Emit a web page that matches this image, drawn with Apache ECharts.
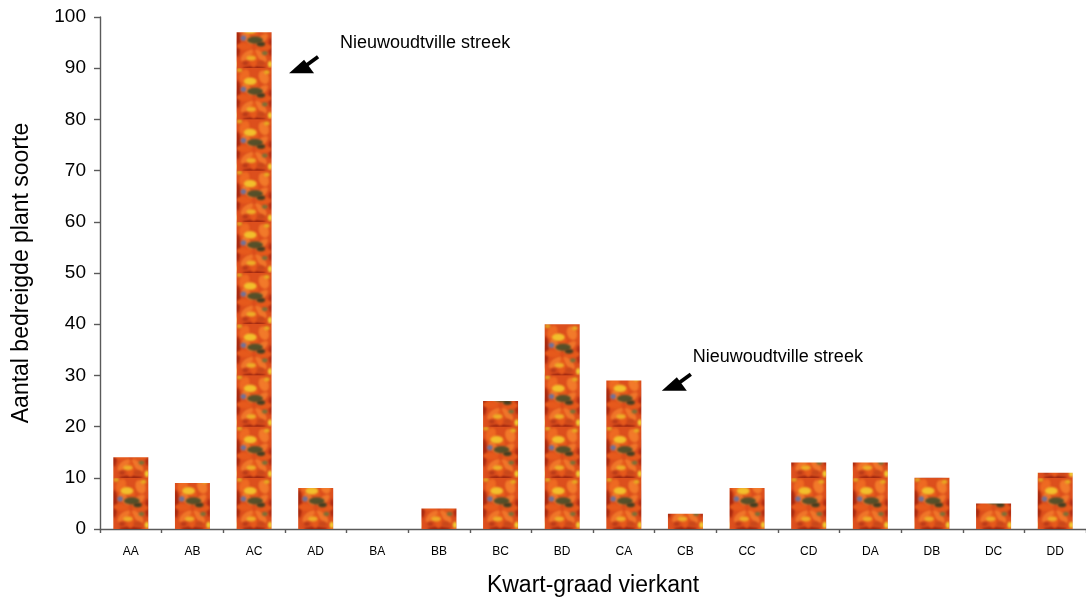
<!DOCTYPE html>
<html><head><meta charset="utf-8">
<script src="https://cdn.jsdelivr.net/npm/echarts@6/dist/echarts.min.js"></script>
<style>html,body{margin:0;padding:0;background:#fff}#c{width:1086px;height:603px}</style>
</head><body><div id="c"></div>
<script>
// ---- data ----
const categories = ['AA','AB','AC','AD','BA','BB','BC','BD','CA','CB','CC','CD','DA','DB','DC','DD'];
const values = [14, 9, 97, 8, 0, 4, 25, 40, 29, 3, 8, 13, 13, 10, 5, 11];
const yMin = 0, yMax = 100, yInterval = 10;
const xTitle = 'Kwart-graad vierkant';
const yTitle = 'Aantal bedreigde plant soorte';
const noteTexts = ['Nieuwoudtville streek', 'Nieuwoudtville streek'];
const noteCategories = ['AC', 'CA'];
const noteValues = [89, 27];

// ---- style ----
const FONT = '"Liberation Sans", Arial, Helvetica, sans-serif';
const AXIS = '#5a5a5a';
const BAR_W = 35;
const noteLayout = [ {dx: 35, tdx: 51, tdy: -30}, {dx: 38, tdx: 31, tdy: -34} ];

function makeTile() {
  const W = 72, H = 102, s = 2;
  const c = document.createElement('canvas'); c.width = W; c.height = H;
  const g = c.getContext('2d');
  g.fillStyle = '#dc4f1d'; g.fillRect(0, 0, W, H);
  g.filter = 'blur(2.2px)';
  const ell = (x, y, rx, ry, col, rot) => {
    g.fillStyle = col; g.beginPath();
    g.ellipse(x * s, y * s, rx * s, ry * s, rot || 0, 0, Math.PI * 2); g.fill();
  };
  ell(1, 26, 3, 14, '#a8290f');
  ell(35, 30, 2.5, 9, '#b02d14');
  ell(18, 51, 12, 2, '#9a2611');
  const petals = [0, 0.8, 1.6, 2.4, 3.2, 4.0, 4.8, 5.6];
  petals.forEach((a, i) => {
    const cx = 18 + Math.cos(a) * 10, cy = 30 + Math.sin(a) * 12;
    ell(cx, cy, 3.5, 8, i % 2 ? '#f0762a' : '#e65a1c', a + Math.PI / 2);
  });
  ell(8, 8, 5, 7, '#ee6a22', 0.4);
  ell(28, 9, 5, 7, '#f27a2a', -0.4);
  ell(14, 13, 6.5, 3.8, '#f2c02c');
  ell(31, 4, 3, 2, '#e8ad22');
  ell(3, 2, 3, 2, '#e2a322');
  ell(19, 23, 8, 3.6, '#55502a');
  ell(25, 27, 4.5, 2.4, '#423e22');
  ell(7, 21, 3, 2.6, '#6f729c');
  ell(15, 41, 5, 2.5, '#eeae28');
  ell(34.5, 47, 2.3, 3.2, '#f2cf32');
  ell(29, 36, 3, 2, '#787238');
  ell(9, 46, 3, 2, '#b83a18');
  ell(25, 46, 4, 2.5, '#c8481b');
  g.filter = 'none';
  return c;
}

const chart = echarts.init(document.getElementById('c'));
const baseOption = {
  backgroundColor: '#fff',
  animation: false,
  grid: { left: 100, top: 17, width: 990, height: 512, containLabel: false },
  xAxis: {
    type: 'category', data: categories, boundaryGap: true,
    axisLine: { lineStyle: { color: AXIS, width: 1.4 } },
    axisTick: { show: true, length: 4, lineStyle: { color: AXIS, width: 1.4 } },
    axisLabel: { fontFamily: FONT, fontSize: 12, color: '#000', margin: 17 },
    name: xTitle, nameLocation: 'middle', nameGap: 45,
    nameTextStyle: { fontFamily: FONT, fontSize: 23, color: '#000' }
  },
  yAxis: {
    type: 'value', min: yMin, max: yMax, interval: yInterval,
    axisLine: { show: true, lineStyle: { color: AXIS, width: 1.4 } },
    axisTick: { show: true, length: 6, lineStyle: { color: AXIS, width: 1.4 } },
    splitLine: { show: false },
    axisLabel: { fontFamily: FONT, fontSize: 19, color: '#000', margin: 14 },
    name: yTitle, nameLocation: 'middle', nameGap: 67, nameRotate: 90,
    nameTextStyle: { fontFamily: FONT, fontSize: 23, color: '#000' }
  },
  series: [{
    type: 'bar', data: values, barWidth: BAR_W,
    itemStyle: { color: '#d64a1c' }, emphasis: { disabled: true }
  }]
};
chart.setOption(baseOption);

const tile = makeTile();
const y0 = chart.convertToPixel({ yAxisIndex: 0 }, 0);
const h10 = y0 - chart.convertToPixel({ yAxisIndex: 0 }, yInterval);
const barData = values.map((v, i) => {
  const cx = chart.convertToPixel({ xAxisIndex: 0 }, categories[i]);
  return {
    value: v,
    itemStyle: { color: { image: tile, repeat: 'repeat', x: cx - BAR_W / 2, y: y0,
      scaleX: BAR_W / tile.width, scaleY: h10 / tile.height } }
  };
});

const graphics = [];
noteTexts.forEach((t, k) => {
  const L = noteLayout[k];
  const p = chart.convertToPixel({ xAxisIndex: 0, yAxisIndex: 0 }, [noteCategories[k], noteValues[k]]);
  const tx = p[0] + L.dx, ty = p[1];
  graphics.push({ type: 'polygon', shape: { points: [[tx, ty], [tx + 15, ty - 13.5], [tx + 25, ty]] },
    style: { fill: '#000' }, silent: true });
  graphics.push({ type: 'line', shape: { x1: tx + 16, y1: ty - 7, x2: tx + 29, y2: ty - 16.5 },
    style: { stroke: '#000', lineWidth: 3.8 }, silent: true });
  graphics.push({ type: 'text', x: tx + L.tdx, y: ty + L.tdy,
    style: { text: t, fontFamily: FONT, fontSize: 18, fill: '#000', textVerticalAlign: 'middle', textAlign: 'left' },
    silent: true });
});

chart.setOption({ series: [{ data: barData }], graphic: graphics });
</script></body></html>
